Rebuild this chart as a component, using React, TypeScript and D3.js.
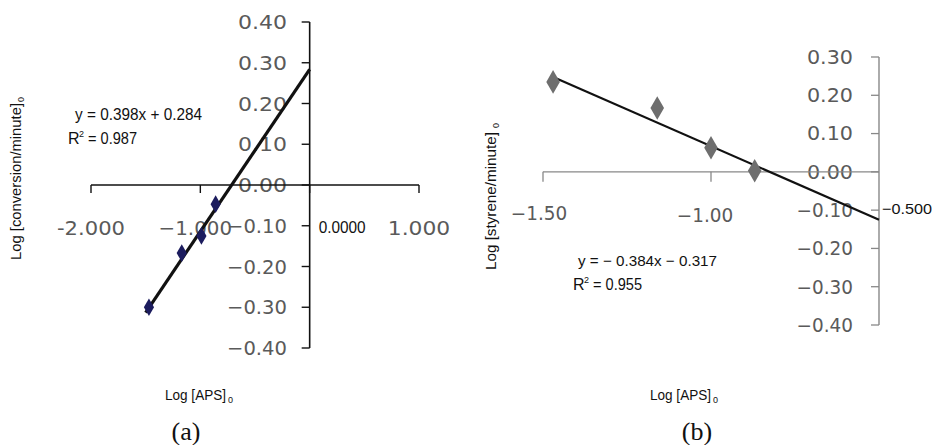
import React from "react";
import * as d3 from "d3";

// Panel (a) data
const apsA = [-1.47, -1.17, -0.99, -0.86];
const convA = [-0.30, -0.167, -0.125, -0.047];
const yTicksA = [0.4, 0.3, 0.2, 0.1, 0.0, -0.1, -0.2, -0.3, -0.4];
const yTickLabelsA = ["0.40", "0.30", "0.20", "0.10", "0.00", "\u22120.10", "\u22120.20", "\u22120.30", "\u22120.40"];
const xTicksA = [-2, -1, 0, 1];
const xTickLabelsA = ["-2.000", "\u22121.000", "0.0000", "1.000"];
const fitA = { slope: 0.398, intercept: 0.284, from: -1.5, to: 0 };

// Panel (b) data
const apsB = [-1.47, -1.16, -1.0, -0.87];
const styB = [0.235, 0.167, 0.063, 0.003];
const yTicksB = [0.3, 0.2, 0.1, 0.0, -0.1, -0.2, -0.3, -0.4];
const yTickLabelsB = ["0.30", "0.20", "0.10", "0.00", "\u22120.10", "\u22120.20", "\u22120.30", "\u22120.40"];
const xTicksB = [-1.5, -1.0, -0.5];
const xTickLabelsB = ["\u22121.50", "\u22121.00", "\u22120.500"];
const fitB = { slope: -0.384, intercept: -0.317, from: -1.47, to: -0.5 };

const tickFont = "'DejaVu Sans', Verdana, sans-serif";
const sans = "'Liberation Sans', Arial, sans-serif";
const serif = "'Liberation Serif', 'Times New Roman', serif";

const labelWidth = (s: string, k: number) => {
  let w = 0;
  for (const c of s) {
    if (c === ".") w += 8.5;
    else if (c === "-") w += 5.5;
    else if (c === "\u2212") w += 11;
    else w += 13.5;
  }
  return w * k;
};

export default function App() {
  const xa = d3.scaleLinear().domain([-2, 1]).range([91, 419]);
  const ya = d3.scaleLinear().domain([-0.4, 0.4]).range([348, 22]);
  const xb = d3.scaleLinear().domain([-1.5, -0.5]).range([543, 879]);
  const yb = d3.scaleLinear().domain([-0.4, 0.3]).range([325, 57]);

  const lineGen = (xs: any, ys: any) =>
    d3.line<number[]>().x((d) => xs(d[0])).y((d) => ys(d[1]));

  const fitPtsA = [fitA.from, fitA.to].map((x) => [x, fitA.slope * x + fitA.intercept]);
  const fitPtsB = [fitB.from, fitB.to].map((x) => [x, fitB.slope * x + fitB.intercept]);

  const diamond = d3.symbol().type(d3.symbolDiamond);

  const axA0 = xa(0);
  const ayA0 = ya(0);
  const axB0 = xb(-0.5);
  const ayB0 = yb(0);

  const TickText = (p: { x: number; y: number; anchor: string; s: string; k: number; size: number }) => (
    <text
      x={p.x}
      y={p.y}
      dy="0.36em"
      textAnchor={p.anchor}
      fontFamily={tickFont}
      fontSize={p.size}
      fill="#5a5a5a"
      textLength={labelWidth(p.s, p.k)}
      lengthAdjust="spacingAndGlyphs"
    >
      {p.s}
    </text>
  );

  const T = (p: { x: number; y: number; len?: number; size?: number; anchor?: string; transform?: string; children: any }) => (
    <text
      x={p.x}
      y={p.y}
      transform={p.transform}
      textAnchor={p.anchor || "start"}
      fontFamily={sans}
      fontSize={p.size || 16}
      fill="#111"
      textLength={p.len}
      lengthAdjust={p.len ? "spacingAndGlyphs" : undefined}
    >
      {p.children}
    </text>
  );

  return (
    <svg width={936} height={445} style={{ position: "absolute", left: 0, top: 0, background: "#fff" }}>
      <rect width={936} height={445} fill="#fff" />
      {/* ---------- Panel (a) ---------- */}
      <g>
        <line x1={axA0} x2={axA0} y1={ya(0.4)} y2={ya(-0.4)} stroke="#111" strokeWidth={1.6} />
        {yTicksA.map((t, i) => (
          <g key={"ya" + i}>
            <line x1={axA0 - 8} x2={axA0} y1={ya(t)} y2={ya(t)} stroke="#111" strokeWidth={1.4} />
            <TickText x={287} y={ya(t)} anchor="end" s={yTickLabelsA[i]} k={1} size={20} />
          </g>
        ))}
        <line x1={xa(-2)} x2={xa(1)} y1={ayA0} y2={ayA0} stroke="#111" strokeWidth={1.6} />
        {xTicksA.map((t, i) => (
          <line key={"xat" + i} x1={xa(t)} x2={xa(t)} y1={ayA0} y2={ayA0 + 8} stroke="#111" strokeWidth={1.4} />
        ))}
        <TickText x={xa(-2)} y={228} anchor="middle" s={xTickLabelsA[0]} k={1} size={20} />
        <TickText x={xa(-1) - 5} y={228} anchor="middle" s={xTickLabelsA[1]} k={1} size={20} />
        <T x={xa(0) + 9} y={233} len={47} size={16}>{xTickLabelsA[2]}</T>
        <TickText x={xa(1)} y={228} anchor="middle" s={xTickLabelsA[3]} k={1} size={20} />
        <path d={lineGen(xa, ya)(fitPtsA as any) || ""} stroke="#111" strokeWidth={3.2} fill="none" />
        {apsA.map((x, i) => (
          <path
            key={"pa" + i}
            d={diamond.size(90)() || ""}
            transform={`translate(${xa(x)},${ya(convA[i])})`}
            fill="#1c1c5e"
          />
        ))}
        <T x={75} y={120} len={127} size={16}>y = 0.398x + 0.284</T>
        <T x={68} y={144} size={16}>R</T>
        <T x={79} y={137} size={9}>2</T>
        <T x={88} y={144} len={49} size={16}>= 0.987</T>
        <T x={0} y={0} len={157} size={15} transform="translate(21,260) rotate(-90)">
          Log [conversion/minute]
        </T>
        <T x={-102} y={24} size={9} transform="rotate(-90)">0</T>
        <T x={165} y={400} len={61} size={14}>Log [APS]</T>
        <T x={228} y={403} size={9}>0</T>
        <text x={186} y={440} textAnchor="middle" fontFamily={serif} fontSize={26} fill="#111">
          (a)
        </text>
      </g>

      {/* ---------- Panel (b) ---------- */}
      <g>
        <line x1={axB0} x2={axB0} y1={yb(0.3)} y2={yb(-0.4)} stroke="#888" strokeWidth={1.4} />
        {yTicksB.map((t, i) => (
          <g key={"yb" + i}>
            <line x1={axB0 - 8} x2={axB0} y1={yb(t)} y2={yb(t)} stroke="#888" strokeWidth={1.3} />
            <TickText x={853} y={yb(t)} anchor="end" s={yTickLabelsB[i]} k={0.94} size={19} />
          </g>
        ))}
        <line x1={xb(-1.5)} x2={axB0} y1={ayB0} y2={ayB0} stroke="#888" strokeWidth={1.4} />
        {xTicksB.slice(0, 2).map((t, i) => (
          <line key={"xbt" + i} x1={xb(t)} x2={xb(t)} y1={ayB0} y2={ayB0 + 10} stroke="#888" strokeWidth={1.3} />
        ))}
        <TickText x={xb(-1.5) - 4} y={213} anchor="middle" s={xTickLabelsB[0]} k={0.94} size={19} />
        <TickText x={xb(-1.0) - 6} y={215} anchor="middle" s={xTickLabelsB[1]} k={0.94} size={19} />
        <T x={axB0 + 3} y={214} len={50} size={15}>{xTickLabelsB[2]}</T>
        <path d={lineGen(xb, yb)(fitPtsB as any) || ""} stroke="#111" strokeWidth={2.2} fill="none" />
        {apsB.map((x, i) => (
          <path
            key={"pb" + i}
            d={diamond.size(160)() || ""}
            transform={`translate(${xb(x)},${yb(styB[i])})`}
            fill="#6e6e6e"
          />
        ))}
        <T x={578} y={266} len={139} size={15}>y = {"\u2212"} 0.384x {"\u2212"} 0.317</T>
        <T x={573} y={290} size={16}>R</T>
        <T x={584} y={283} size={9}>2</T>
        <T x={593} y={290} len={49} size={16}>= 0.955</T>
        <T x={0} y={0} len={138} size={15} transform="translate(496,270) rotate(-90)">
          Log [styrene/minute]
        </T>
        <T x={-128} y={499} size={9} transform="rotate(-90)">0</T>
        <T x={650} y={400} len={61} size={14}>Log [APS]</T>
        <T x={713} y={403} size={9}>0</T>
        <text x={697} y={440} textAnchor="middle" fontFamily={serif} fontSize={26} fill="#111">
          (b)
        </text>
      </g>
    </svg>
  );
}
